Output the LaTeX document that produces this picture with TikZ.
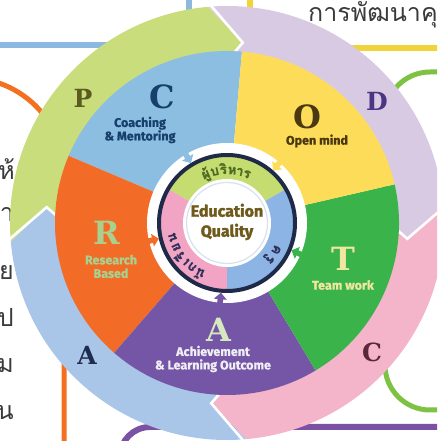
\documentclass[tikz,border=0pt]{standalone}
\usepackage{fontspec}
\setmainfont{DejaVu Serif}
\newfontfamily\lblfont[FakeBold=1]{Fira Sans}
\newfontfamily\eqfont[FakeBold=2]{Fira Sans}
\newfontfamily\thaifont[Script=Thai]{Loma}
\newfontfamily\thaiboldfont[Script=Thai,FakeBold=1]{Loma}
\definecolor{bgblue}{HTML}{8DB8E0}
\definecolor{bgyellow}{HTML}{F0D43A}
\definecolor{bgorange}{HTML}{F37021}
\definecolor{bggreen}{HTML}{7DC242}
\definecolor{bgpurple}{HTML}{7B52A3}
\definecolor{darktext}{HTML}{3A3A3A}
\definecolor{bandP}{HTML}{C9DD7C}
\definecolor{bandD}{HTML}{D9CAE4}
\definecolor{bandC}{HTML}{F4B4CA}
\definecolor{bandA}{HTML}{A9C6E8}
\definecolor{segblue}{HTML}{8BBEE0}
\definecolor{segyellow}{HTML}{FDDC5A}
\definecolor{seggreen}{HTML}{3AB44A}
\definecolor{segpurple}{HTML}{7556A6}
\definecolor{segorange}{HTML}{F26C28}
\definecolor{ingreen}{HTML}{C4DC70}
\definecolor{inblue}{HTML}{8CB4E4}
\definecolor{inpink}{HTML}{F2A4C4}
\definecolor{navyring}{HTML}{1E2A48}
\definecolor{palecirc}{HTML}{D6E2F0}
\definecolor{eqtext}{HTML}{6E5B1C}
\definecolor{cP}{HTML}{5B5B20}
\definecolor{cC}{HTML}{173F6B}
\definecolor{cO}{HTML}{4A3810}
\definecolor{cD}{HTML}{4B3585}
\definecolor{cR}{HTML}{A9D08E}
\definecolor{cT}{HTML}{F0E6A0}
\definecolor{cAin}{HTML}{D5E8C0}
\definecolor{cAout}{HTML}{1D2C4F}
\definecolor{cCout}{HTML}{5A2838}
\definecolor{cAch}{HTML}{F0EEF5}
\definecolor{thgreen}{HTML}{4F6B22}
\definecolor{thdark}{HTML}{2E3058}
\tikzset{
  bgline/.style={line width=6pt},
  lbl/.style={font=\lblfont\bfseries\fontsize{12.5}{13.5}\selectfont, align=center, inner sep=0pt},
  bigletter/.style={font=\bfseries\fontsize{32}{32}\selectfont, inner sep=0pt},
  outletter/.style={font=\bfseries\fontsize{25}{25}\selectfont, inner sep=0pt},
  thaibg/.style={font=\thaifont\fontsize{25}{25}\selectfont, text=darktext, inner sep=0pt},
  ringtxt/.style={font=\thaiboldfont\bfseries\fontsize{13.5}{13.5}\selectfont, inner sep=0pt, anchor=base},
  chevron/.style={white, line width=2.6pt, line join=miter},
}
\newcommand\bandpiece[3]{\fill[#1] ({#2+10}:217) arc[start angle={#2+10}, end angle={#3+10}, radius=217] -- (#3:181) -- ({#3+3}:171) arc[start angle={#3+3}, end angle={#2+3}, radius=171] -- (#2:181) -- cycle;}
\newcommand\chev[1]{\draw[chevron] ({#1+10}:222) -- (#1:181) -- ({#1+3}:169);}
\newcommand\segwedge[4]{\fill[#1] (0,0) -- (#2:#4) arc[start angle=#2, end angle=#3, radius=#4] -- cycle;}
\newcommand\ringarrow[2]{\fill[#2, rotate=#1] (83,2.8) -- (76.5,2.8) -- (76.5,6.5) -- (70,0) -- (76.5,-6.5) -- (76.5,-2.8) -- (83,-2.8) -- cycle;}
\newcommand\arcch[4]{\node[ringtxt, text=#4, rotate=#1-90] at (#1:#2) {#3};}
\begin{document}
\begin{tikzpicture}[x=1pt,y=1pt]
\useasboundingbox (0,0) rectangle (437,441);
\clip (0,0) rectangle (437,441);
% background decorations
\draw[bgline, bgblue] (-5,396) -- (189,396) -- (189,446);
\draw[bgline, bgyellow] (249.5,446) -- (249.5,392.5) -- (442,392.5);
\draw[bgline, line width=5pt, bgorange] (-40,363) -- (-32,363) arc[start angle=90, end angle=0, radius=96] -- (64,-10);
\draw[bgline, line width=5pt, bggreen] (442,369) -- (430,369) arc[start angle=90, end angle=180, radius=45] -- (385,76) arc[start angle=180, end angle=270, radius=45] -- (442,31);
\draw[bgline, bgpurple] (120,-30) -- (120,-16) arc[start angle=180, end angle=90, radius=30] -- (442,14);
\node[thaibg, anchor=base west] (toptext) at (308,419) {การพัฒนาคุณ};
\node[thaibg, anchor=base east] (l1) at (15,261) {ห้};
\node[thaibg, anchor=base east] (l2) at (14,219) {า};
\node[thaibg, anchor=base east] (l3) at (14,161) {ย};
\node[thaibg, anchor=base east] (l4) at (14,114) {ป};
\node[thaibg, anchor=base east] (l5) at (14,68) {ม};
\node[thaibg, anchor=base east] (l6) at (14,21) {น};
\node[thaibg, anchor=base east] (l7) at (15,-21) {ห้};
% main wheel
\begin{scope}[shift={(227,218)}]
  \bandpiece{bandP}{175}{85}
  \bandpiece{bandD}{85}{-5}
  \bandpiece{bandC}{-5}{-95}
  \bandpiece{bandA}{-95}{-185}
  \chev{85}\chev{-5}\chev{-95}\chev{175}
  \segwedge{segblue}{85}{157}{172}
  \segwedge{segorange}{157}{229}{172}
  \segwedge{segpurple}{229}{301}{172}
  \segwedge{seggreen}{301}{373}{172}
  \segwedge{segyellow}{13}{85}{172}
  \fill[white] (0,0) circle[radius=80];
  \ringarrow{121}{segblue}
  \ringarrow{49}{segyellow}
  \ringarrow{193}{segorange}
  \ringarrow{265}{segpurple}
  \ringarrow{337}{seggreen}
  \segwedge{ingreen}{30}{150}{68}
  \segwedge{inpink}{150}{270}{68}
  \segwedge{inblue}{270}{390}{68}
  \draw[navyring, line width=4pt] (0,0) circle[radius=68];
  \fill[white] (0,0) circle[radius=44];
  \draw[palecirc, line width=1.2pt] (0,0) circle[radius=40.5];
  % Thai texts on inner ring
  \arcch{113.5}{49}{ผู้}{thgreen}
  \arcch{103.5}{49}{บ}{thgreen}
  \arcch{94}{49}{ริ}{thgreen}
  \arcch{84.5}{49}{ห}{thgreen}
  \arcch{76}{49}{า}{thgreen}
  \arcch{68}{49}{ร}{thgreen}
  \arcch{-28.5}{52.5}{ค}{thdark}
  \arcch{-40}{52.5}{รู}{thdark}
  \arcch{242}{52.5}{นั}{thdark}
  \arcch{231.5}{52.5}{ก}{thdark}
  \arcch{223.5}{52.5}{เ}{thdark}
  \arcch{215.5}{52.5}{รี}{thdark}
  \arcch{205.5}{52.5}{ย}{thdark}
  \arcch{195}{52.5}{น}{thdark}
  \node[font=\eqfont\bfseries\fontsize{16}{20}\selectfont, text=eqtext, align=center, inner sep=0pt] (eq) at (0,1) {Education\\Quality};
\end{scope}
% letters and labels
\node[outletter, text=cP] (P) at (83,343) {P};
\node[bigletter, text=cC] (C1) at (162,344) {C};
\node[lbl, text=cC] (coach) at (140,311) {Coaching\\\& Mentoring};
\node[bigletter, text=cO] (O) at (307,324) {O};
\node[lbl, text=cO] (open) at (317,300) {Open mind};
\node[outletter, text=cD] (D) at (377,340) {D};
\node[bigletter, text=cR] (R) at (107,208) {R};
\node[lbl, text=cR] (res) at (111,174.5) {Research\\Based};
\node[bigletter, text=cT] (T) at (343,182) {T};
\node[lbl, text=cT] (team) at (343,156) {Team work};
\node[bigletter, text=cAin] (A1) at (219,111) {A};
\node[lbl, text=cAch] (ach) at (213,82) {Achievement\\\& Learning Outcome};
\node[outletter, text=cAout] (A2) at (87,86) {A};
\node[outletter, text=cCout] (C2) at (372,89) {C};
\end{tikzpicture}
\end{document}
